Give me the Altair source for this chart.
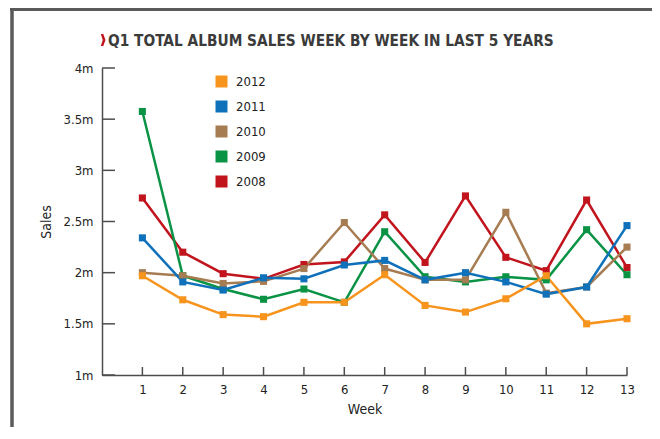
import altair as alt
import pandas as pd

# ---- data (values in millions) ----
weeks = list(range(1, 14))
years = ["2008", "2009", "2010", "2011", "2012"]
s2012 = [1.97, 1.735, 1.59, 1.57, 1.71, 1.71, 1.98, 1.68, 1.615, 1.745, 1.97, 1.50, 1.55]
s2011 = [2.34, 1.91, 1.83, 1.95, 1.94, 2.075, 2.12, 1.93, 2.00, 1.91, 1.79, 1.86, 2.46]
s2010 = [2.00, 1.97, 1.895, 1.915, 2.04, 2.49, 2.04, 1.93, 1.93, 2.59, 1.80, 1.86, 2.25]
s2009 = [3.575, 1.97, 1.84, 1.74, 1.84, 1.71, 2.40, 1.96, 1.91, 1.96, 1.93, 2.42, 1.98]
s2008 = [2.73, 2.20, 1.99, 1.94, 2.08, 2.105, 2.565, 2.10, 2.75, 2.15, 2.02, 2.71, 2.05]
y_ticks = [1, 1.5, 2, 2.5, 3, 3.5, 4]
title_text = "Q1 TOTAL ALBUM SALES WEEK BY WEEK IN LAST 5 YEARS"

legend_order = ["2012", "2011", "2010", "2009", "2008"]
colors = ["#F7941D", "#0F71BA", "#A67C52", "#0A9345", "#C1141D"]

series = {"2008": s2008, "2009": s2009, "2010": s2010, "2011": s2011, "2012": s2012}
rows = []
for yr in years:
    for w, v in zip(weeks, series[yr]):
        rows.append({"Week": w, "Sales": v, "Year": yr})
df = pd.DataFrame(rows)

FONT = "DejaVu Sans Condensed, Liberation Sans Narrow, sans-serif"
AXIS_COL = "#4d4d4d"
W, H = 525, 307

x_scale = alt.Scale(domain=[0, 13], nice=False, zero=False)
y_scale = alt.Scale(domain=[1, 4], nice=False, zero=False)
color_scale = alt.Scale(domain=legend_order, range=colors)

x_enc = alt.X("Week:Q", scale=x_scale,
              axis=alt.Axis(values=weeks, ticks=False, grid=False, domainColor=AXIS_COL,
                            domainWidth=1.5, labelPadding=8, labelFontSize=13, labelFont=FONT,
                            labelColor="#222", title="Week", titleFont=FONT, titleFontSize=14,
                            titleFontWeight="normal", titleColor="#222", titlePadding=6,
                            labelFlush=False))
y_enc = alt.Y("Sales:Q", scale=y_scale,
              axis=alt.Axis(values=y_ticks, ticks=False, grid=False, domainColor=AXIS_COL,
                            domainWidth=1.5, labelPadding=9, labelFontSize=13, labelFont=FONT,
                            labelColor="#222", labelExpr="datum.value + 'm'", title="Sales",
                            titleFont=FONT, titleFontSize=14, titleFontWeight="normal",
                            titleColor="#222", titlePadding=10, labelFlush=False))
color_enc = alt.Color("Year:N", scale=color_scale, sort=legend_order,
                      legend=alt.Legend(orient="none", legendX=113, legendY=7, title=None,
                                        symbolType="square", symbolSize=144, symbolStrokeWidth=0,
                                        symbolOpacity=1, labelFontSize=13, labelFont=FONT,
                                        labelColor="#222", labelOffset=8, rowPadding=11,
                                        padding=0))

lines = alt.Chart(df).mark_line(strokeWidth=2.5).encode(
    x=x_enc, y=y_enc, color=color_enc, order="Week:Q", detail="Year:N")
points = alt.Chart(df).mark_point(shape="square", filled=True, size=50, opacity=1).encode(
    x="Week:Q", y="Sales:Q", color=alt.Color("Year:N", scale=color_scale, legend=None))

# inward tick marks
ydf = pd.DataFrame({"v": y_ticks})
xdf = pd.DataFrame({"w": weeks})
yticks = alt.Chart(ydf).mark_rule(color=AXIS_COL, strokeWidth=1.5).encode(
    y=alt.Y("v:Q", scale=y_scale), x=alt.value(0), x2=alt.value(13))
xticks = alt.Chart(xdf).mark_rule(color=AXIS_COL, strokeWidth=1.5).encode(
    x=alt.X("w:Q", scale=x_scale), y=alt.value(H - 8), y2=alt.value(H))

one = pd.DataFrame({"t": [title_text]})
title = alt.Chart(one).mark_text(align="left", baseline="alphabetic", fontSize=15.3,
                                 fontWeight="bold", font=FONT, color="#3b3b3b").encode(
    x=alt.value(6), y=alt.value(-22), text="t:N")
chevron = alt.Chart(one).mark_point(
    shape="M-0.35,-1 L0.05,-1 L0.4,0 L0.05,1 L-0.35,1 L-0.05,0 Z",
    filled=True, size=150, color="#C1141D", opacity=1, strokeWidth=0).encode(
    x=alt.value(1), y=alt.value(-28))

# frame border (top and left)
frame_top = alt.Chart(one).mark_rule(color="#5a5a5a", strokeWidth=3).encode(
    x=alt.value(-92), x2=alt.value(560), y=alt.value(-58.5))
frame_left = alt.Chart(one).mark_rule(color="#5a5a5a", strokeWidth=3.5).encode(
    x=alt.value(-90), y=alt.value(-60), y2=alt.value(400))

chart = alt.layer(frame_top, frame_left, yticks, xticks, lines, points, title, chevron).properties(
    width=W, height=H,
    background="white",
    autosize=alt.AutoSizeParams(type="none"),
    padding={"left": 94, "top": 60, "right": 25, "bottom": 52},
).configure_view(stroke="transparent", strokeWidth=0)

chart.save("out.html", embed_options={"renderer": "svg", "actions": False})
